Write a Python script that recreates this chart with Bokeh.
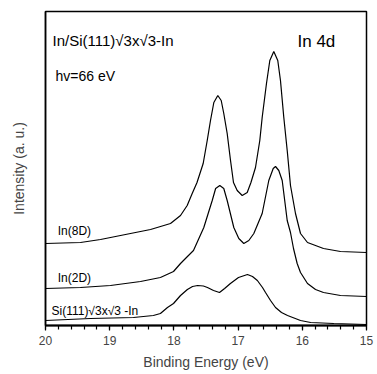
from bokeh.plotting import figure
from bokeh.models import Range1d, FixedTicker, Label
from bokeh.embed import file_html
from bokeh.resources import INLINE

# Binding energy (eV) and intensity (arbitrary units)
e_8d = [20.00, 19.455, 19.143, 18.676, 18.364, 18.053, 17.897, 17.793, 17.715, 17.64,
        17.544, 17.481, 17.43, 17.378, 17.316, 17.263, 17.223, 17.17, 17.118, 17.072,
        17.014, 16.936, 16.858, 16.80, 16.729, 16.662, 16.625, 16.558, 16.506, 16.444,
        16.382, 16.34, 16.288, 16.235, 16.184, 16.106, 16.028, 15.919, 15.67, 15.405, 15.0]
i_8d = [82, 83, 86, 92, 96, 102, 110, 120, 132, 143,
        162, 185, 205, 223, 230, 225, 212, 192, 165, 143,
        135, 130, 133, 143, 158, 185, 208, 242, 265, 274,
        265, 245, 208, 175, 140, 112, 92, 83, 77, 74, 73]

e_2d = [20.00, 19.455, 18.988, 18.52, 18.21, 18.006, 17.897, 17.82, 17.695, 17.534,
        17.403, 17.35, 17.285, 17.223, 17.17, 17.067, 16.989, 16.911, 16.833, 16.755,
        16.625, 16.522, 16.453, 16.417, 16.366, 16.313, 16.235, 16.184, 16.137, 16.08,
        16.028, 15.919, 15.794, 15.67, 15.405, 15.0]
i_2d = [37, 38, 40, 44, 48, 54, 62, 67, 75, 98,
        125, 137, 140, 137, 125, 98, 87, 82, 85, 92,
        112, 145, 157, 159, 155, 145, 105, 93, 77, 62,
        53, 42, 36, 33, 30, 29]

e_si = [20.00, 19.30, 18.63, 18.32, 18.21, 18.10, 18.006, 17.897, 17.79, 17.71,
        17.63, 17.54, 17.477, 17.383, 17.29, 17.21, 17.12, 16.994, 16.854, 16.776,
        16.70, 16.62, 16.573, 16.495, 16.417, 16.324, 16.23, 16.028, 15.87, 15.51, 15.0]
i_si = [5, 7, 8, 10, 12, 18, 22, 30, 36, 39,
        40, 39.5, 38, 35, 33, 37, 42, 48, 51, 49,
        45, 38, 33, 25, 18, 13, 10, 5, 3, 2, 1]

x_ticks = [20, 19, 18, 17, 16, 15]
x_minor = [20 - 0.2 * k for k in range(26)]

X_MIN, X_MAX = 20, 15
Y_MIN, Y_MAX = 0, 314

FONT = "Liberation Sans"

p = figure(width=377, height=374, x_range=Range1d(X_MIN, X_MAX), y_range=Range1d(Y_MIN, Y_MAX),
           output_backend="svg", toolbar_location=None,
           min_border_left=45, min_border_right=11, min_border_top=11, min_border_bottom=49)

for ex, iy in [(e_8d, i_8d), (e_2d, i_2d), (e_si, i_si)]:
    p.line(ex, iy, line_color="black", line_width=1.2)

p.grid.visible = False
p.outline_line_color = "black"
p.outline_line_width = 1.5
p.background_fill_color = "white"
p.border_fill_color = "white"

xa = p.xaxis[0]
xa.ticker = FixedTicker(ticks=x_ticks, minor_ticks=x_minor)
xa.major_tick_in = 0
xa.major_tick_out = 5
xa.major_tick_line_width = 1.2
xa.major_tick_line_color = "black"
xa.minor_tick_in = 0
xa.minor_tick_out = 4
xa.minor_tick_line_width = 1.2
xa.minor_tick_line_color = "black"
xa.axis_line_width = 1.8
xa.axis_line_color = "black"
xa.major_label_text_font = FONT
xa.major_label_text_font_size = "12px"
xa.major_label_standoff = 5
xa.axis_label = "Binding Energy (eV)"
xa.axis_label_text_font = FONT
xa.axis_label_text_font_size = "14px"
xa.axis_label_text_font_style = "normal"
xa.axis_label_standoff = 6

ya = p.yaxis[0]
ya.ticker = FixedTicker(ticks=[])
ya.major_tick_in = 0
ya.major_tick_out = 0
ya.minor_tick_in = 0
ya.minor_tick_out = 0
ya.axis_line_width = 1.5
ya.major_label_text_font_size = "0px"
ya.axis_label = "Intensity (a. u.)"
ya.axis_label_text_font = FONT
ya.axis_label_text_font_size = "14px"
ya.axis_label_text_font_style = "normal"
ya.axis_label_standoff = 19

labels = [
    ("In/Si(111)\u221a3x\u221a3-In", 19.89, 285, "15px"),
    ("In 4d", 16.075, 284, "17px"),
    ("hv=66 eV", 19.844, 250, "14px"),
    ("In(8D)", 19.81, 95, "12px"),
    ("In(2D)", 19.81, 48, "12px"),
    ("Si(111)\u221a3x\u221a3 -In", 19.907, 15, "12px"),
]
for txt, lx, ly, fs in labels:
    p.add_layout(Label(x=lx, y=ly, text=txt, text_font=FONT, text_font_size=fs,
                       text_color="black", text_baseline="alphabetic", text_align="left"))

open("out.html", "w").write(file_html(p, INLINE))
